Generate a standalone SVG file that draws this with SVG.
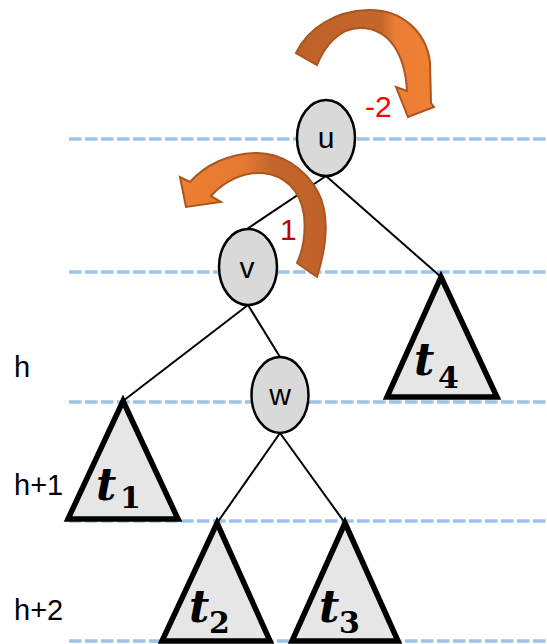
<svg xmlns="http://www.w3.org/2000/svg" width="547" height="644" viewBox="0 0 547 644">
<defs>
<style>
.lvl{stroke:#9DC3E6;stroke-width:3.3;stroke-dasharray:12.5 3.5;fill:none}
.edge{stroke:#000;stroke-width:2;fill:none}
.node ellipse{fill:#D9D9D9;stroke:#000;stroke-width:2.5}
.nl{font-family:"Liberation Sans",Arial,sans-serif;font-size:30px;fill:#000;text-anchor:middle}
.tri{fill:#E7E6E6;stroke:#000;stroke-width:5.5;stroke-linejoin:miter}
.tt{font-family:"DejaVu Serif",serif;font-weight:bold;font-style:italic;font-size:44px;fill:#000}
.ts{font-family:"DejaVu Serif",serif;font-weight:bold;font-size:30px;fill:#000}
.side{font-family:"Liberation Sans",Arial,sans-serif;font-size:29px;fill:#000}
.arr{stroke:#A9561F;stroke-width:2;stroke-linejoin:miter}
.bf{font-family:"Liberation Sans",Arial,sans-serif;font-size:30px}
</style>
<linearGradient id="g1" x1="0" y1="0" x2="1" y2="0">
<stop offset="0" stop-color="#BF6128"/>
<stop offset="0.62" stop-color="#C5662C"/>
<stop offset="0.72" stop-color="#EC7E35"/>
<stop offset="1" stop-color="#EE7F33"/>
</linearGradient>
<linearGradient id="g2" x1="0" y1="0" x2="1" y2="0">
<stop offset="0" stop-color="#EE7F33"/>
<stop offset="0.45" stop-color="#E57831"/>
<stop offset="0.62" stop-color="#C4662C"/>
<stop offset="1" stop-color="#BF6128"/>
</linearGradient>
</defs>
<g id="levels">
<line class="lvl" x1="69" y1="139" x2="547" y2="139"/>
<line class="lvl" x1="69" y1="272" x2="547" y2="272"/>
<line class="lvl" x1="69" y1="402" x2="547" y2="402"/>
<line class="lvl" x1="69" y1="521" x2="547" y2="521"/>
<line class="lvl" x1="69" y1="641" x2="547" y2="641"/>
</g>
<g id="side-labels">
<text class="side" x="14" y="377">h</text>
<text class="side" x="14" y="495">h+1</text>
<text class="side" x="14" y="620">h+2</text>
</g>
<g id="connectors">
<line class="edge" x1="326" y1="176" x2="247" y2="229"/>
<line class="edge" x1="326" y1="176" x2="441" y2="277"/>
<line class="edge" x1="248" y1="305" x2="123" y2="401"/>
<line class="edge" x1="248" y1="305" x2="280" y2="357"/>
<line class="edge" x1="280" y1="433" x2="217" y2="523"/>
<line class="edge" x1="280" y1="433" x2="345" y2="523"/>
</g>
<g id="node-u" class="node"><ellipse cx="326" cy="138" rx="29" ry="38"/><text class="nl" x="326" y="148">u</text></g>
<g id="node-v" class="node"><ellipse cx="248" cy="267" rx="29" ry="38"/><text class="nl" x="247" y="278">v</text></g>
<g id="node-w" class="node"><ellipse cx="280" cy="395" rx="28.5" ry="38"/><text class="nl" x="280" y="405">w</text></g>
<g id="t1"><polygon class="tri" points="123,401 178,519 68,519"/><text class="tt" x="96" y="500">t</text><text class="ts" x="120" y="508">1</text></g>
<g id="t2"><polygon class="tri" points="217,523 270,641 162,641"/><text class="tt" x="189" y="622">t</text><text class="ts" x="209" y="633">2</text></g>
<g id="t3"><polygon class="tri" points="345,523 398,641 292,641"/><text class="tt" x="319" y="622">t</text><text class="ts" x="339" y="633">3</text></g>
<g id="t4"><polygon class="tri" points="441,277 497,397 387,397"/><text class="tt" x="414" y="375">t</text><text class="ts" x="438" y="388">4</text></g>
<g id="rot-u">
<path class="arr" fill="url(#g1)" d="M296,53 C308,28 335,11 368,10 C402,9 426,32 430,62 L431,103 L434,107 L408,117 L396,87 L407,91 C405,55 390,28 360,28 C340,28 325,45 317,65 Z"/>
<text class="bf" x="365" y="117" fill="#FF0000">-2</text>
</g>
<g id="rot-v">
<path class="arr" fill="url(#g2)" d="M317,277 C327,245 330,215 318,192 C305,168 280,152 255,153 C228,154 205,165 190,182 L180,177 L186,207 L221,202 L211,196 C225,180 245,172 262,173 C285,175 300,190 304,215 C306,235 303,250 297,263 Z"/>
<text class="bf" x="280" y="240" fill="#C00000">1</text>
</g>
</svg>
